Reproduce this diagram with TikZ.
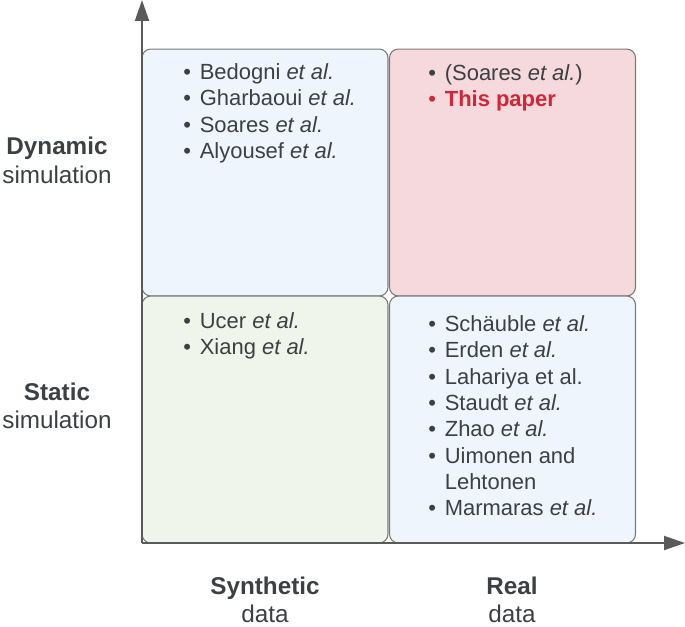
\documentclass[tikz,border=0pt]{standalone}
\usepackage{fontspec}
\setmainfont{Liberation Sans}
\usetikzlibrary{arrows.meta}
\definecolor{boxblue}{HTML}{EEF5FC}
\definecolor{boxpink}{HTML}{F5D9DD}
\definecolor{boxgreen}{HTML}{F0F5EB}
\definecolor{edgegray}{HTML}{7A7A7A}
\definecolor{axisgray}{HTML}{5A5A5A}
\definecolor{textgray}{HTML}{3C4043}
\definecolor{paperred}{HTML}{D32536}
\newcommand{\etal}{\textit{et al.}}
\newcommand{\refitem}{\textbullet}
\begin{document}
\begin{tikzpicture}[x=0.02cm, y=-0.02cm,
        quad/.style={draw=edgegray, line width=0.6pt, rounded corners=5pt,
            minimum width=4.92cm, minimum height=4.94cm, inner sep=0pt},
        axis/.style={axisgray, line width=1.1pt, -{Triangle[length=0.42cm, width=0.28cm]}},
        reflist/.style={anchor=base west, inner sep=0pt, text=textgray,
            font=\fontsize{12.5}{15}\selectfont},
        axlabel/.style={align=center, text=textgray, inner sep=0pt, anchor=base,
            font=\fontsize{13.8}{16}\selectfont}]
        \useasboundingbox (0,0) rectangle (685,626);
        % coordinates
        \coordinate (origin) at (142,543);
        \coordinate (ytip) at (142,0);
        \coordinate (xtip) at (685,543);
        % quadrants
        \node[quad, fill=boxblue] (dynsynth) at (265,172.5) {};
        \node[quad, fill=boxpink] (dynreal) at (512.5,172.5) {};
        \node[quad, fill=boxgreen] (statsynth) at (265,419.5) {};
        \node[quad, fill=boxblue] (statreal) at (512.5,419.5) {};
        % axes
        \draw[axis] (origin) -- (ytip);
        \draw[axis] (origin) -- (xtip);
        % references
        \node[reflist] (listA) at (183,79.5) {\begin{tabular}[t]{@{}l@{\hspace{5pt}}l@{}}
            \refitem & Bedogni \etal\\
            \refitem & Gharbaoui \etal\\
            \refitem & Soares \etal\\
            \refitem & Alyousef \etal
        \end{tabular}};
        \node[reflist] (listB) at (428,80) {\begin{tabular}[t]{@{}l@{\hspace{5pt}}l@{}}
            \refitem & (Soares \etal)\\
            \color{paperred}\refitem & \color{paperred}\textbf{This paper}
        \end{tabular}};
        \node[reflist] (listC) at (183,328.5) {\begin{tabular}[t]{@{}l@{\hspace{5pt}}l@{}}
            \refitem & Ucer \etal\\
            \refitem & Xiang \etal
        \end{tabular}};
        \node[reflist] (listD) at (428,331.5) {\begin{tabular}[t]{@{}l@{\hspace{5pt}}l@{}}
            \refitem & Schäuble \etal\\
            \refitem & Erden \etal\\
            \refitem & Lahariya et al.\\
            \refitem & Staudt \etal\\
            \refitem & Zhao \etal\\
            \refitem & Uimonen and\\
                     & Lehtonen\\
            \refitem & Marmaras \etal
        \end{tabular}};
        % axis labels
        \node[axlabel] (dyn) at (57,183) {\textbf{Dynamic}\\simulation};
        \node[axlabel] (stat) at (57,428.5) {\textbf{Static}\\simulation};
        \node[axlabel] (synth) at (265,622.5) {\textbf{Synthetic}\\data};
        \node[axlabel] (real) at (512,622.5) {\textbf{Real}\\data};
    \end{tikzpicture}
\end{document}
